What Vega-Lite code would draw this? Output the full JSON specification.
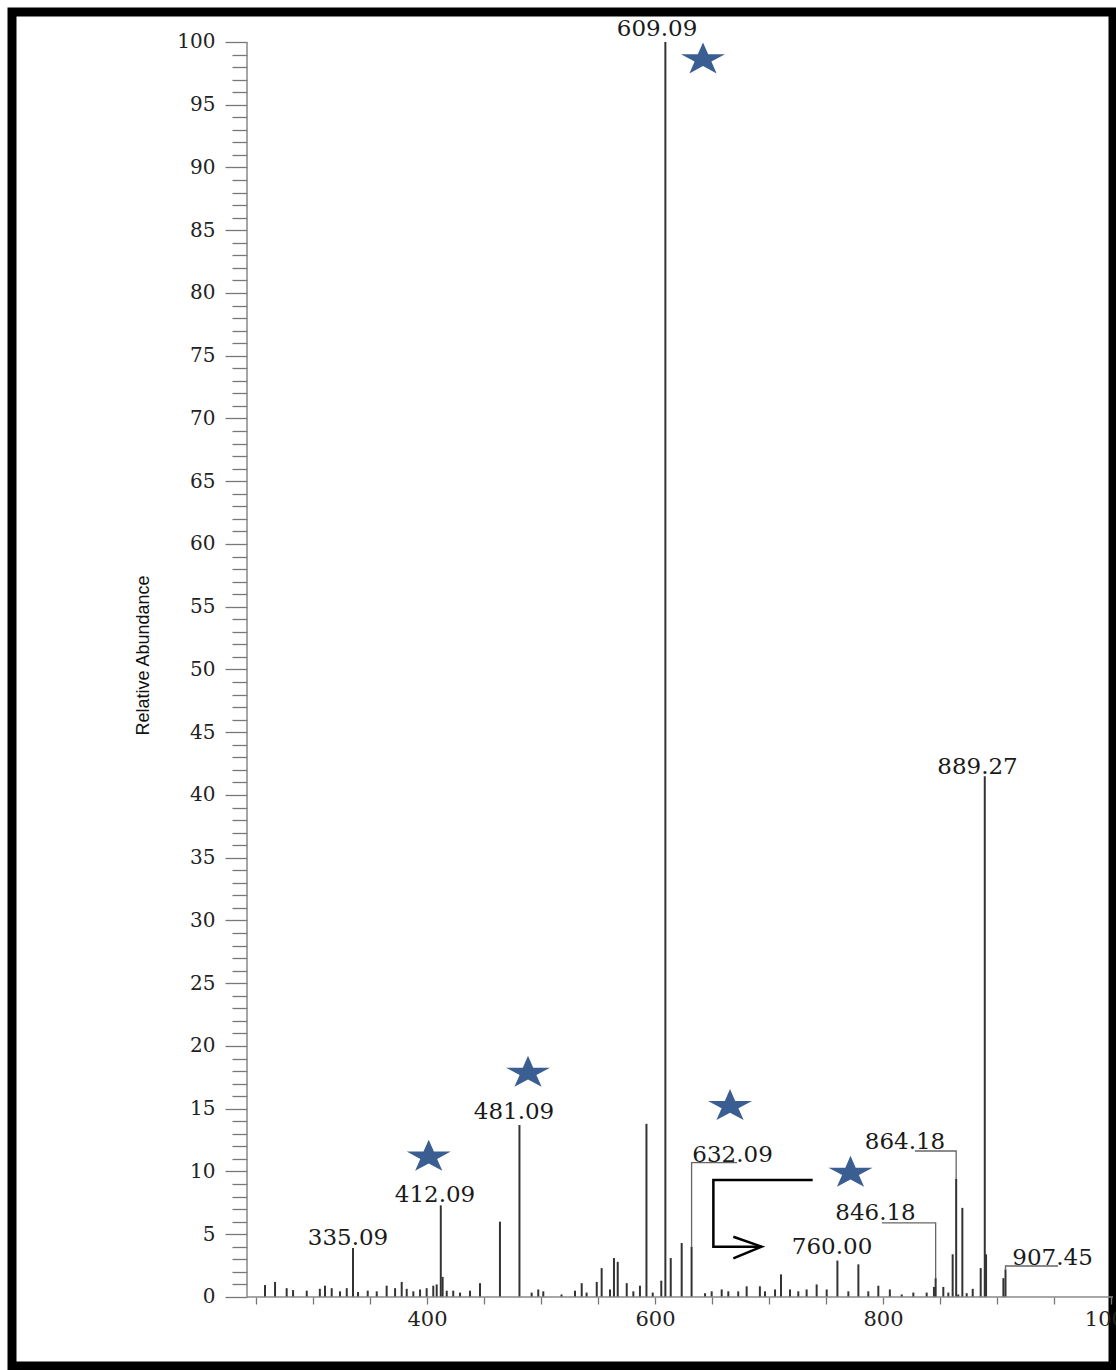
{
  "$schema": "https://vega.github.io/schema/vega-lite/v6.json",
  "width": 1101,
  "height": 1354,
  "autosize": {"type": "none"},
  "padding": {"left": 12, "top": 12, "right": 3, "bottom": 4},
  "background": "white",
  "config": {"view": {"stroke": "black", "strokeWidth": 9, "fill": "white"}},
  "datasets": {
    "peaks": [
      {"mz": 257.9, "h": 0.95}, {"mz": 266.7, "h": 1.2}, {"mz": 276.9, "h": 0.7}, {"mz": 282.5, "h": 0.55},
      {"mz": 294.5, "h": 0.5}, {"mz": 306, "h": 0.65}, {"mz": 310.5, "h": 0.9}, {"mz": 316.4, "h": 0.7},
      {"mz": 323.7, "h": 0.45}, {"mz": 329.6, "h": 0.7}, {"mz": 335.09, "h": 3.9}, {"mz": 339.5, "h": 0.4},
      {"mz": 348, "h": 0.5}, {"mz": 355.9, "h": 0.45}, {"mz": 364.6, "h": 0.9}, {"mz": 372, "h": 0.7},
      {"mz": 377.8, "h": 1.2}, {"mz": 382.2, "h": 0.65}, {"mz": 388, "h": 0.45}, {"mz": 393.9, "h": 0.6},
      {"mz": 399.7, "h": 0.7}, {"mz": 405.5, "h": 0.9}, {"mz": 408.5, "h": 1.0}, {"mz": 412.09, "h": 7.3},
      {"mz": 413.7, "h": 1.6}, {"mz": 417.3, "h": 0.5}, {"mz": 423, "h": 0.5}, {"mz": 429, "h": 0.35},
      {"mz": 437.7, "h": 0.5}, {"mz": 446.5, "h": 1.1}, {"mz": 464, "h": 6.0}, {"mz": 481.09, "h": 13.7},
      {"mz": 491.8, "h": 0.35}, {"mz": 497.6, "h": 0.6}, {"mz": 502, "h": 0.45}, {"mz": 518, "h": 0.2},
      {"mz": 529.8, "h": 0.5}, {"mz": 535.7, "h": 1.1}, {"mz": 540, "h": 0.35}, {"mz": 548.9, "h": 1.2},
      {"mz": 553.2, "h": 2.3}, {"mz": 560.5, "h": 0.6}, {"mz": 564, "h": 3.1}, {"mz": 567.3, "h": 2.8},
      {"mz": 575.2, "h": 1.1}, {"mz": 581, "h": 0.45}, {"mz": 586.8, "h": 0.9}, {"mz": 592.5, "h": 13.8},
      {"mz": 598, "h": 0.35}, {"mz": 605.5, "h": 1.3}, {"mz": 609.09, "h": 100}, {"mz": 613.8, "h": 3.1},
      {"mz": 623.4, "h": 4.3}, {"mz": 632.09, "h": 4.0}, {"mz": 643.9, "h": 0.3}, {"mz": 649.7, "h": 0.45},
      {"mz": 658.5, "h": 0.6}, {"mz": 664.3, "h": 0.45}, {"mz": 673, "h": 0.45}, {"mz": 680.4, "h": 0.85},
      {"mz": 692, "h": 0.85}, {"mz": 696.5, "h": 0.45}, {"mz": 705.3, "h": 0.6}, {"mz": 710.5, "h": 1.8},
      {"mz": 718.4, "h": 0.6}, {"mz": 725.7, "h": 0.45}, {"mz": 733, "h": 0.6}, {"mz": 741.8, "h": 1.0},
      {"mz": 750.6, "h": 0.6}, {"mz": 760.0, "h": 2.9}, {"mz": 769.6, "h": 0.45}, {"mz": 778.4, "h": 2.6},
      {"mz": 787.1, "h": 0.45}, {"mz": 795.9, "h": 0.9}, {"mz": 806, "h": 0.6}, {"mz": 816.4, "h": 0.2},
      {"mz": 826.6, "h": 0.35}, {"mz": 838.3, "h": 0.35}, {"mz": 844.7, "h": 0.8}, {"mz": 846.18, "h": 1.5},
      {"mz": 852.9, "h": 0.8}, {"mz": 857.3, "h": 0.35}, {"mz": 861.1, "h": 3.4}, {"mz": 864.18, "h": 9.4},
      {"mz": 866, "h": 0.2}, {"mz": 869.6, "h": 7.1}, {"mz": 873.4, "h": 0.3}, {"mz": 878.7, "h": 0.65},
      {"mz": 885.7, "h": 2.3}, {"mz": 889.27, "h": 41.5}, {"mz": 890.4, "h": 3.4}, {"mz": 905.6, "h": 1.5},
      {"mz": 907.45, "h": 2.2}
    ],
    "axislines": [
      {"mz": 242.1, "h": 0, "mz2": 242.1, "h2": 100},
      {"mz": 242.1, "h": 0, "mz2": 1001.75, "h2": 0}
    ],
    "leaders": [
      {"id": "632", "ord": 1, "mz": 672, "h": 10.7}, {"id": "632", "ord": 2, "mz": 632.09, "h": 10.7}, {"id": "632", "ord": 3, "mz": 632.09, "h": 4.0},
      {"id": "864", "ord": 1, "mz": 828, "h": 11.63}, {"id": "864", "ord": 2, "mz": 864.18, "h": 11.63}, {"id": "864", "ord": 3, "mz": 864.18, "h": 9.4},
      {"id": "846", "ord": 1, "mz": 799, "h": 5.9}, {"id": "846", "ord": 2, "mz": 846.18, "h": 5.9}, {"id": "846", "ord": 3, "mz": 846.18, "h": 1.5},
      {"id": "907", "ord": 1, "mz": 953.5, "h": 2.47}, {"id": "907", "ord": 2, "mz": 907.45, "h": 2.47}, {"id": "907", "ord": 3, "mz": 907.45, "h": 2.2}
    ],
    "arrow": [
      {"id": "a", "ord": 1, "mz": 738.3, "h": 9.32}, {"id": "a", "ord": 2, "mz": 651.2, "h": 9.32},
      {"id": "a", "ord": 3, "mz": 651.2, "h": 4.01}, {"id": "a", "ord": 4, "mz": 693.6, "h": 4.01},
      {"id": "b", "ord": 1, "mz": 668.7, "h": 4.8}, {"id": "b", "ord": 2, "mz": 693.6, "h": 4.01},
      {"id": "b", "ord": 3, "mz": 668.7, "h": 3.08}
    ],
    "labels": [
      {"label": "609.09", "mz": 601.8, "h": 101.04},
      {"label": "889.27", "mz": 882.9, "h": 42.2},
      {"label": "481.09", "mz": 476.3, "h": 14.74},
      {"label": "412.09", "mz": 407, "h": 8.13},
      {"label": "335.09", "mz": 330.7, "h": 4.68},
      {"label": "632.09", "mz": 668, "h": 11.3},
      {"label": "864.18", "mz": 819.3, "h": 12.35},
      {"label": "846.18", "mz": 793.4, "h": 6.69},
      {"label": "760.00", "mz": 755.3, "h": 3.98},
      {"label": "907.45", "mz": 948.7, "h": 3.1}
    ],
    "stars": [
      {"mz": 642.1, "h": 98.6},
      {"mz": 401.5, "h": 11.16},
      {"mz": 488.6, "h": 17.85},
      {"mz": 665.8, "h": 15.2},
      {"mz": 771.5, "h": 9.88}
    ]
  },
  "encoding": {
    "x": {
      "field": "mz", "type": "quantitative",
      "scale": {"domain": [35.96, 1001.75], "nice": false, "zero": false},
      "axis": {
        "orient": "bottom", "offset": -69, "title": null, "domain": false, "grid": false,
        "values": [250, 300, 350, 400, 450, 500, 550, 600, 650, 700, 750, 800, 850, 900, 950, 1000],
        "format": "d",
        "labelExpr": "datum.value % 200 === 0 ? datum.label : ''",
        "tickSize": 7, "tickColor": "#777", "tickWidth": 1.3,
        "labelFont": "DejaVu Serif", "labelFontSize": 21, "labelColor": "#222", "labelPadding": 4,
        "labelOverlap": false, "labelFlush": false
      }
    },
    "y": {
      "field": "h", "type": "quantitative",
      "scale": {"domain": [-5.5, 102.39], "nice": false, "zero": false},
      "axis": {
        "orient": "left", "offset": -235, "domain": false, "grid": false,
        "values": [0,1,2,3,4,5,6,7,8,9,10,11,12,13,14,15,16,17,18,19,20,21,22,23,24,25,26,27,28,29,30,31,32,33,34,35,36,37,38,39,40,41,42,43,44,45,46,47,48,49,50,51,52,53,54,55,56,57,58,59,60,61,62,63,64,65,66,67,68,69,70,71,72,73,74,75,76,77,78,79,80,81,82,83,84,85,86,87,88,89,90,91,92,93,94,95,96,97,98,99,100],
        "format": "d",
        "labelExpr": "datum.value % 5 === 0 ? datum.label : ''",
        "tickSize": {"condition": {"test": "datum.value % 5 === 0", "value": 22}, "value": 15},
        "tickColor": "#777", "tickWidth": 1.3,
        "labelFont": "DejaVu Serif", "labelFontSize": 20, "labelColor": "#222", "labelPadding": 10,
        "labelOverlap": false, "labelFlush": false,
        "title": "Relative Abundance",
        "titleFont": "Liberation Sans Narrow, Liberation Sans, Arial, sans-serif", "titleFontSize": 18, "titleFontWeight": "normal", "titleColor": "#111",
        "titleX": -104, "titleY": 643, "titleAlign": "center", "titleBaseline": "middle", "titleAngle": -90
      }
    }
  },
  "layer": [
    {
      "data": {"name": "peaks"},
      "mark": {"type": "rule", "color": "#333", "strokeWidth": 2},
      "encoding": {"y2": {"datum": 0}}
    },
    {
      "data": {"name": "axislines"},
      "mark": {"type": "rule", "color": "#888", "strokeWidth": 1.5},
      "encoding": {"x2": {"field": "mz2"}, "y2": {"field": "h2"}}
    },
    {
      "data": {"name": "leaders"},
      "mark": {"type": "line", "color": "#666", "strokeWidth": 1.3},
      "encoding": {"detail": {"field": "id"}, "order": {"field": "ord"}}
    },
    {
      "data": {"name": "arrow"},
      "mark": {"type": "line", "color": "black", "strokeWidth": 2.5},
      "encoding": {"detail": {"field": "id"}, "order": {"field": "ord"}}
    },
    {
      "data": {"name": "labels"},
      "mark": {"type": "text", "font": "DejaVu Serif", "fontSize": 23, "color": "#1a1a1a", "align": "center", "baseline": "middle"},
      "encoding": {"text": {"field": "label"}}
    },
    {
      "data": {"name": "stars"},
      "mark": {"type": "point", "filled": true, "opacity": 1, "color": "#3b5e92", "size": 1175,
        "shape": "M0,-1L0.303,-0.309L1.284,-0.309L0.49,0.118L0.794,0.809L0,0.382L-0.794,0.809L-0.49,0.118L-1.284,-0.309L-0.303,-0.309Z"},
      "encoding": {}
    }
  ]
}
